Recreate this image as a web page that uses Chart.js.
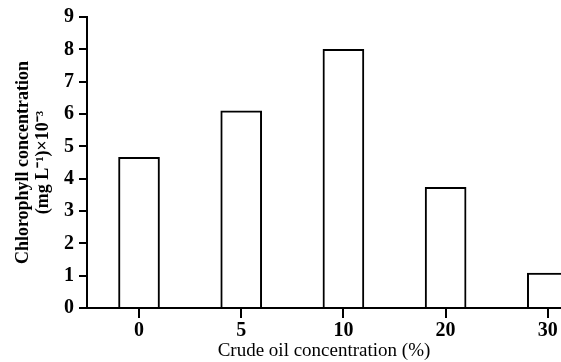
<!DOCTYPE html>
<html>
<head>
<meta charset="utf-8">
<script src="https://cdn.jsdelivr.net/npm/chart.js@4/dist/chart.umd.min.js"></script>
<style>
  html, body { margin: 0; padding: 0; background: #fff; }
  canvas { display: block; }
</style>
</head>
<body>
<canvas id="chlChart" width="561" height="362"></canvas>
<script>
// data
const oilLabels = ['0', '5', '10', '20', '30'];
const chlValues = [4.66, 6.1, 8.0, 3.73, 1.08];
const yTicks = [0, 1, 2, 3, 4, 5, 6, 7, 8, 9];

const serif = 'Liberation Serif, Times New Roman, serif';

document.addEventListener('DOMContentLoaded', () => {
    const ctx = document.getElementById('chlChart').getContext('2d');

    new Chart(ctx, {
        type: 'bar',
        data: {
            datasets: [{
                data: chlValues.map((v, i) => ({ x: i, y: v })),
                backgroundColor: '#fff',
                borderColor: '#000',
                borderWidth: 2,
                barThickness: 41
            }]
        },
        options: {
            responsive: false,
            animation: false,
            layout: { padding: { top: 14, right: 0, bottom: 0, left: 0 } },
            plugins: { legend: { display: false }, tooltip: { enabled: false } },
            scales: {
                x: {
                    type: 'linear',
                    offset: false,
                    min: -0.509,
                    max: 4.129,
                    afterBuildTicks: s => { s.ticks = oilLabels.map((_, i) => ({ value: i })); },
                    afterFit: s => { s.height = 54; },
                    border: { display: true, color: '#000', width: 2 },
                    grid: { offset: false, drawOnChartArea: false, drawTicks: true, tickLength: 10, color: '#000', lineWidth: 2 },
                    ticks: {
                        padding: 1,
                        color: '#000',
                        font: { family: serif, size: 20, weight: 'bold' },
                        maxRotation: 0,
                        callback: v => oilLabels[v]
                    },
                    title: {
                        display: true,
                        text: 'Crude oil concentration (%)',
                        color: '#000',
                        font: { family: serif, size: 19 },
                        padding: { top: 0, bottom: 0 }
                    }
                },
                y: {
                    min: 0,
                    max: 9,
                    afterBuildTicks: s => { s.ticks = yTicks.map(v => ({ value: v })); },
                    afterFit: s => { s.width = 87; },
                    border: { display: true, color: '#000', width: 2 },
                    grid: { drawOnChartArea: false, drawTicks: true, tickLength: 8, color: '#000', lineWidth: 2 },
                    ticks: {
                        padding: 5,
                        color: '#000',
                        font: { family: serif, size: 20, weight: 'bold' }
                    },
                    title: {
                        display: true,
                        text: ['Chlorophyll concentration', '(mg L\u207B\u00B9)\u00D710\u207B\u00B3'],
                        color: '#000',
                        font: { family: serif, size: 18, weight: 'bold', lineHeight: 1.11 },
                        padding: { top: 13, bottom: 0 }
                    }
                }
            }
        }
    });
});
</script>
</body>
</html>
